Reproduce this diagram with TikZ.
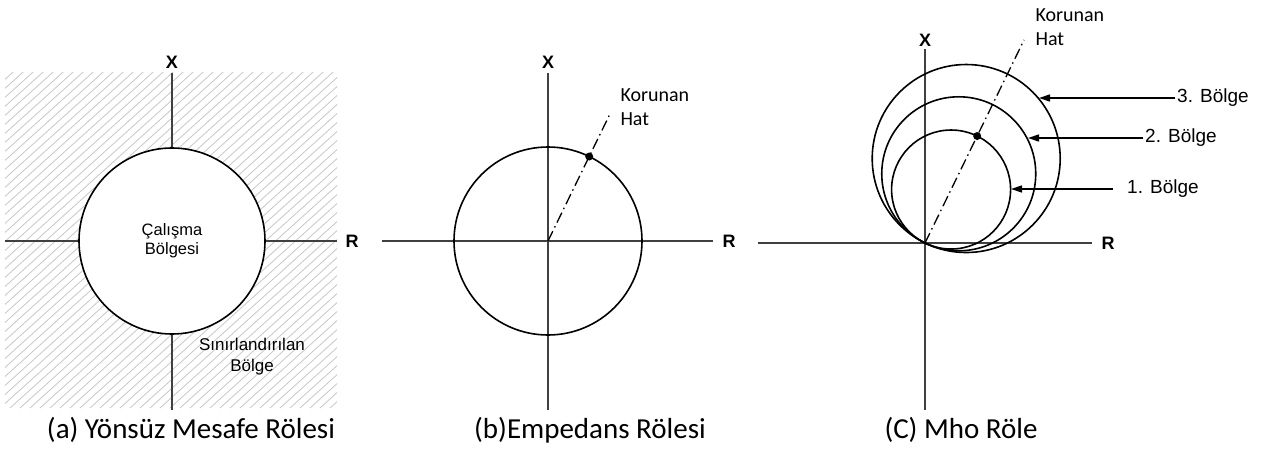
\documentclass[tikz,border=0pt]{standalone}
\usepackage{fontspec}
\setmainfont{Liberation Sans}
\newfontfamily\calibrifont{Carlito}
\usetikzlibrary{arrows.meta, calc}

\begin{document}
\begin{tikzpicture}[x=1pt, y=1pt, >={Triangle[length=11pt,width=7pt]},
	axis/.style={line width=1.1pt, black!75},
	relay/.style={draw, circle, line width=1.6pt, inner sep=0pt},
	hatch/.style={line width=0.8pt, black!22},
	protline/.style={line width=1.3pt, dash pattern=on 11pt off 4pt on 1.5pt off 4pt},
	axlabel/.style={font=\fontsize{18}{20}\selectfont\bfseries},
	caption/.style={font=\calibrifont\fontsize{29}{34}\selectfont, anchor=base},
	linelabel/.style={font=\calibrifont\fontsize{20}{24}\selectfont, align=left, anchor=west},
	zonelabel/.style={font=\fontsize{19}{22}\selectfont, anchor=west, inner sep=2pt},
	zonearrow/.style={->, line width=1.4pt}]
	
	\useasboundingbox (0,0) rectangle (1262,451);
	
	% 1. Yonsuz mesafe rolesi (a)
	\begin{scope}
		\clip (5,43) rectangle (337,378);
		\foreach \x in {-390,-380,...,340}
			\draw[hatch] (\x,43) -- ++(42:520);
	\end{scope}
	\coordinate (A) at (172,210);
	\draw[axis] (A) ++(-167,0) -- ++(332,0);
	\draw[axis] (A) ++(0,168) -- ++(0,-337);
	\node[relay, fill=white, minimum size=186pt, align=center,
		font=\fontsize{16.5}{19}\selectfont] (ca) at (A) {Çalışma\\Bölgesi};
	\node[axlabel] (xa) at (172,389) {X};
	\node[axlabel] (ra) at (352,210) {R};
	\node[align=center, font=\fontsize{17}{21}\selectfont] (sa) at (252,94) {Sınırlandırılan\\Bölge};
	\node[caption] (capa) at (191,13) {(a) Yönsüz Mesafe Rölesi};
	
	% 2. Empedans rolesi (b)
	\coordinate (B) at (548,210);
	\draw[axis] (B) ++(-166,0) -- ++(331,0);
	\draw[axis] (B) ++(0,168) -- ++(0,-337);
	\node[relay, minimum size=188pt] (cb) at (B) {};
	\coordinate (kb) at ($(B)+(64:143)$);
	\coordinate (db) at ($(B)+(64:94)$);
	\draw[protline] (B) -- (kb);
	\fill (db) circle (4pt);
	\node[axlabel] (xb) at (548,389) {X};
	\node[axlabel] (rb) at (729,210) {R};
	\node[linelabel] (kbl) at (617,344) {Korunan\\Hat};
	\node[caption] (capb) at (590,13) {(b)Empedans Rölesi};
	
	% 3. Mho role (c)
	\coordinate (C) at (925,208);
	\draw[axis] (C) ++(-167,0) -- ++(334,0);
	\draw[axis] (C) ++(0,194) -- ++(0,-361);
	\foreach \r [count=\i] in {59.5,77,94}
		\node[relay, minimum size={2*\r}] (m\i) at ($(C)+(64:\r)$) {};
	\coordinate (kc) at ($(C)+(64:226)$);
	\coordinate (dc) at ($(C)+(64:119)$);
	\draw[protline] (C) -- (kc);
	\fill (dc) circle (4pt);
	\node[axlabel] (xc) at (925,411) {X};
	\node[axlabel] (rc) at (1108,208) {R};
	\node[linelabel] (kcl) at (1032,424) {Korunan\\Hat};
	
	% zone labels and arrows
	\node[zonelabel] (z3) at (1175,353) {3. Bölge};
	\node[zonelabel] (z2) at (1143,313) {2. Bölge};
	\node[zonelabel] (z1) at (1125,262) {1. Bölge};
	\coordinate (t3) at (1039,353);
	\coordinate (t2) at (1028,313);
	\coordinate (t1) at (1011,262);
	\draw[zonearrow] (z3.west) -- (t3);
	\draw[zonearrow] (z2.west) -- (t2);
	\draw[zonearrow, shorten <=12pt] (z1.west) -- (t1);
	\node[caption] (capc) at (961,13) {(C) Mho Röle};
	
\end{tikzpicture}
\end{document}
